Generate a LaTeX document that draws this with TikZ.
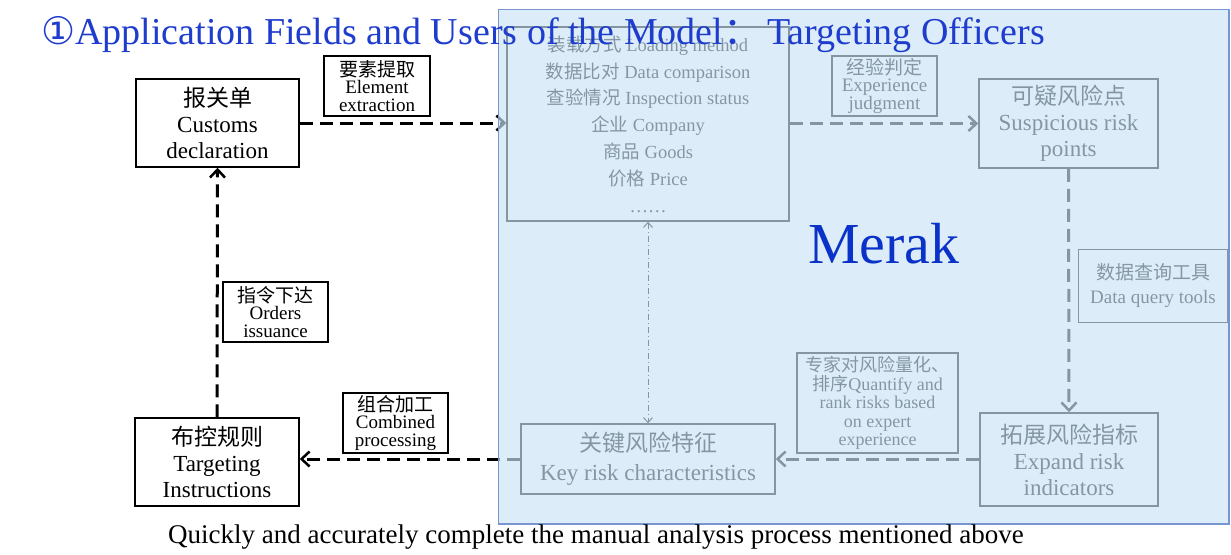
\documentclass[tikz,border=0pt]{standalone}
\usepackage{fontspec}
\setmainfont{Liberation Serif}
\newfontfamily\cjk{Noto Sans CJK SC}
\newfontfamily\djv{DejaVu Sans}
\usetikzlibrary{arrows.meta}
\definecolor{titleblue}{RGB}{30,60,205}
\definecolor{merakblue}{RGB}{10,50,200}
\definecolor{veil}{RGB}{202,229,246}
\definecolor{veilborder}{RGB}{120,150,205}
\tikzset{
 bigbox/.style={draw=black, line width=1.5pt, inner sep=0pt, align=center, font=\fontsize{23}{26}\selectfont},
 tagbox/.style={draw=black, line width=1.2pt, inner sep=0pt, align=center, font=\fontsize{19}{17.5}\selectfont},
 flow/.style={line width=3pt, dash pattern=on 13pt off 7pt, -{Straight Barb[length=8pt,width=15pt,line width=2.5pt]}},
 link/.style={line width=1pt, dash pattern=on 6pt off 3pt on 1pt off 3pt, {Straight Barb[length=5pt,width=9pt]}-{Straight Barb[length=5pt,width=9pt]}},
}
\begin{document}
\begin{tikzpicture}[x=1pt,y=-1pt]
\useasboundingbox (0,0) rectangle (1231,554);
\fill[white] (0,0) rectangle (1231,554);
% main nodes
\node[bigbox, minimum width=163pt, minimum height=88pt] (customs) at (217.5,123) {{\cjk 报关单}\\Customs\\declaration};
\node[bigbox, minimum width=164pt, minimum height=88pt] (targ) at (217,462) {{\cjk 布控规则}\\Targeting\\Instructions};
\node[bigbox, minimum width=179pt, minimum height=89pt] (susp) at (1068.5,123.5) {{\cjk 可疑风险点}\\Suspicious risk\\points};
\node[bigbox, minimum width=178pt, minimum height=93pt] (expand) at (1069,459.5) {{\cjk 拓展风险指标}\\Expand risk\\indicators};
\node[bigbox, minimum width=254pt, minimum height=70pt, font=\fontsize{23}{29}\selectfont] (key) at (648,459) {{\cjk 关键风险特征}\\Key risk characteristics};
\node[bigbox, minimum width=282pt, minimum height=194pt, font=\fontsize{18.5}{26.8}\selectfont] (data) at (648,124) {{\cjk 装载方式} Loading method\\{\cjk 数据比对} Data comparison\\{\cjk 查验情况} Inspection status\\{\cjk 企业} Company\\{\cjk 商品} Goods\\{\cjk 价格} Price\\……};
% label boxes
\node[tagbox, minimum width=106pt, minimum height=60pt] (elem) at (377,86) {{\cjk 要素提取}\\Element\\extraction};
\node[tagbox, minimum width=105pt, minimum height=60pt] (exper) at (884.5,86) {{\cjk 经验判定}\\Experience\\judgment};
\node[tagbox, minimum width=105pt, minimum height=60pt] (orders) at (275.5,312) {{\cjk 指令下达}\\Orders\\issuance};
\node[tagbox, minimum width=105pt, minimum height=60pt] (comb) at (395.5,423) {{\cjk 组合加工}\\Combined\\processing};
\node[tagbox, minimum width=149pt, minimum height=73pt, font=\fontsize{19}{24}\selectfont] (query) at (1153,286) {{\cjk 数据查询工具}\\Data query tools};
\node[tagbox, minimum width=161pt, minimum height=100pt, font=\fontsize{18}{18.5}\selectfont] (expert) at (877.5,403) {{\cjk 专家对风险量化、}\\{\cjk 排序}Quantify and\\rank risks based\\on expert\\experience};
% connectors
\draw[flow] (customs.east) -- (customs.east -| data.west);
\draw[flow] (data.east |- susp.west) -- (susp.west);
\draw[flow] (susp.south) -- (expand.north);
\draw[flow] (expand.west |- key.east) -- (key.east);
\draw[flow] (key.west) -- (key.west -| targ.east);
\draw[flow] (targ.north) -- (customs.south);
\draw[link] (data.south) -- (key.north);
% Merak veil
\fill[veil, opacity=0.66] (498.5,9.5) rectangle (1229,524);
\draw[veilborder, line width=1.5pt] (498.5,9.5) rectangle (1229,524);
\node[anchor=base, text=merakblue, font=\fontsize{58}{60}\selectfont, inner sep=0pt] (merak) at (884,263) {Merak};
\node[anchor=base west, text=titleblue, font=\fontsize{38}{44}\selectfont, inner sep=0pt] (title) at (41,44) {{\djv ①}Application Fields and Users of the Model{\cjk ：}\hspace{6pt}Targeting Officers};
\node[anchor=base west, font=\fontsize{27}{30}\selectfont, inner sep=0pt] (caption) at (168,543) {Quickly and accurately complete the manual analysis process mentioned above};
\end{tikzpicture}
\end{document}
